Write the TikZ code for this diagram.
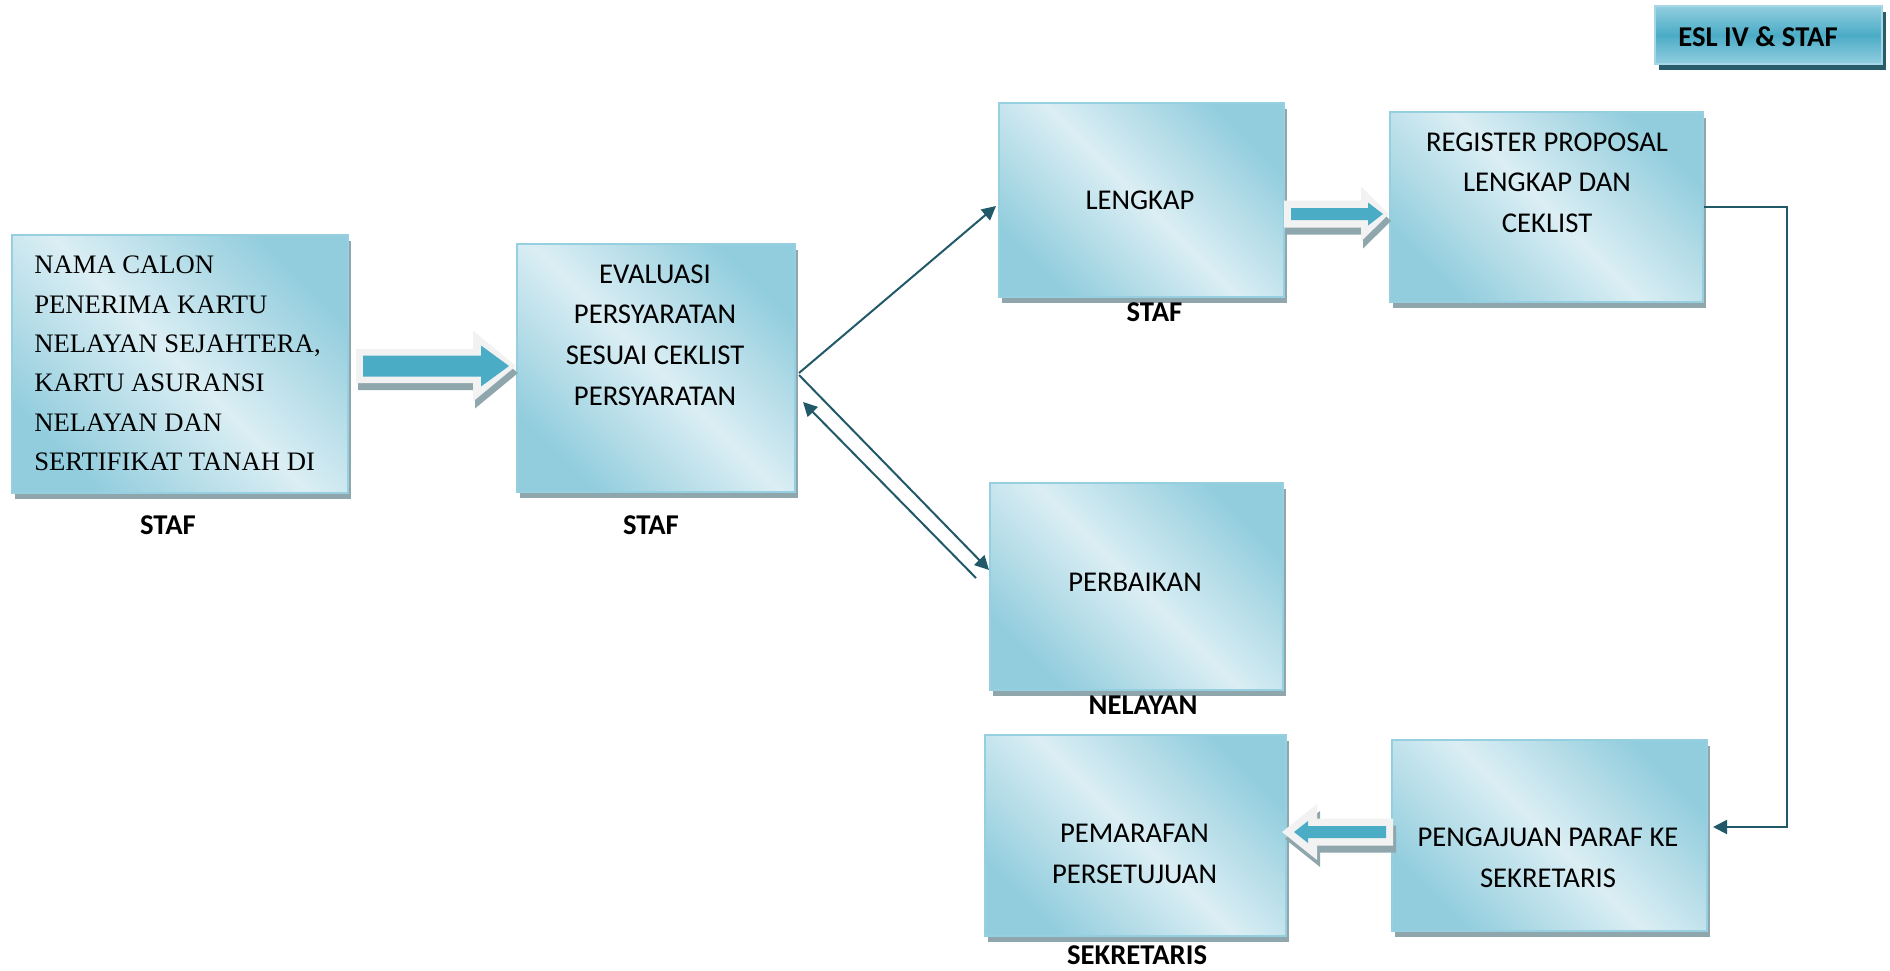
\documentclass[tikz,border=0pt]{standalone}
\usepackage{fontspec}
\setmainfont{Carlito}
\newfontfamily\boxserif{Liberation Serif}
\usetikzlibrary{arrows.meta,calc,shadows}

\definecolor{boxlight}{RGB}{219,238,244}
\definecolor{boxdark}{RGB}{146,205,221}
\definecolor{boxedge}{RGB}{150,207,223}
\definecolor{shadowgrey}{RGB}{143,166,173}
\definecolor{lineteal}{RGB}{33,89,104}
\definecolor{arrowblue}{RGB}{75,172,198}
\definecolor{arrowwhite}{RGB}{242,242,242}
\definecolor{tagtop}{RGB}{146,206,224}
\definecolor{tagedge}{RGB}{165,215,230}
\definecolor{tagshadow}{RGB}{40,92,106}

\newcommand\fatsx{2}

\begin{document}
\begin{tikzpicture}[x=0.75pt,y=-0.75pt,
  stepbox/.style={draw=boxedge, line width=1.5pt, inner sep=0pt,
    top color=boxdark, bottom color=boxdark, middle color=boxlight,
    shading angle=-45,
    drop shadow={shadow xshift=2.25pt, shadow yshift=-4.5pt, fill=shadowgrey, opacity=1}},
  tagbox/.style={draw=tagedge, line width=1.2pt, inner sep=0pt,
    top color=tagtop, bottom color=tagtop, middle color=arrowblue,
    drop shadow={shadow xshift=3pt, shadow yshift=-4.5pt, fill=tagshadow, opacity=1}},
  boxtext/.style={inner sep=0pt, align=center, font=\fontsize{21.5pt}{30.5pt}\selectfont},
  lab/.style={inner sep=0pt, font=\fontsize{21.5pt}{26pt}\selectfont\bfseries},
  conn/.style={draw=lineteal, line width=1.5pt, -{Triangle[length=10.5pt,width=10.5pt]}},
  fatshadow/.code={\renewcommand\fatsx{#1}},
  % block arrow: outer length / shaft half / head half / head length /
  % inner tail inset / inner tip / inner shaft half / inner head half / inner head length
  pics/fatarrow/.style args={#1/#2/#3/#4/#5/#6/#7/#8/#9}{code={
    \fill[shadowgrey, shift={(\fatsx,7)}] (0,-#2) -- ({#1-#4},-#2) -- ({#1-#4},-#3) -- (#1,0)
      -- ({#1-#4},#3) -- ({#1-#4},#2) -- (0,#2) -- cycle;
    \fill[arrowwhite] (0,-#2) -- ({#1-#4},-#2) -- ({#1-#4},-#3) -- (#1,0)
      -- ({#1-#4},#3) -- ({#1-#4},#2) -- (0,#2) -- cycle;
    \fill[arrowblue] (#5,-#7) -- ({#6-#9},-#7) -- ({#6-#9},-#8) -- (#6,0)
      -- ({#6-#9},#8) -- ({#6-#9},#7) -- (#5,#7) -- cycle;
  }}
]
\useasboundingbox (0,0) rectangle (1890,970);

% process boxes
\node[stepbox, minimum width=252pt,    minimum height=193.5pt]  (b1) at (180,364) {};
\node[stepbox, minimum width=208.5pt,  minimum height=186pt]    (b2) at (656,368) {};
\node[stepbox, minimum width=213.75pt, minimum height=145.5pt]  (b3) at (1141.5,200) {};
\node[stepbox, minimum width=234.75pt, minimum height=142.5pt]  (b4) at (1546.5,207) {};
\node[stepbox, minimum width=219.75pt, minimum height=155.25pt] (b5) at (1136.5,586.5) {};
\node[stepbox, minimum width=225.75pt, minimum height=150.75pt] (b6) at (1135.5,835.5) {};
\node[stepbox, minimum width=236.25pt, minimum height=143.25pt] (b7) at (1549.5,835.5) {};
\node[tagbox,  minimum width=170.25pt, minimum height=43.5pt]   (tag) at (1768.5,35) {};

% block arrows between boxes
\pic at ($(b1.east)+(7,2)$) {fatarrow=160/17/35.5/43/7/153/10.5/20.5/28};
\pic at ($(b3.east)+(-1,14)$) {fatarrow=105/13.5/27.5/28/7/99/6/11.5/15};
\pic[xscale=-1, fatshadow=-3] at ($(b7.west)+(2,-3.5)$) {fatarrow=111/13.5/28/35/7/99/6/11/14};

% line connectors
\draw[conn] ($(b2.east)+(3,5)$) -- ($(b3.west)+(-2,6)$);
\draw[conn] ($(b2.east)+(3,7)$) -- ($(b5.west)+(0,-16.5)$);
\draw[conn] ($(b5.west)+(-13,-8.5)$) -- ($(b2.east)+(7,34)$);
\draw[conn] (b4.east) -- ++(83,0) |- ($(b7.east)+(5,-8.5)$);

% box texts
\node[inner sep=0pt, anchor=west, align=left,
      font=\boxserif\fontsize{20pt}{29.6pt}\selectfont] (t1) at (34,363.5)
  {NAMA CALON\\PENERIMA KARTU\\NELAYAN SEJAHTERA,\\KARTU ASURANSI\\NELAYAN DAN\\SERTIFIKAT TANAH DI};
\node[boxtext] (t2) at (655,335) {EVALUASI\\PERSYARATAN\\SESUAI CEKLIST\\PERSYARATAN};
\node[boxtext] (t3) at (1140,200) {LENGKAP};
\node[boxtext] (t4) at (1547,182.5) {REGISTER PROPOSAL\\LENGKAP DAN\\CEKLIST};
\node[boxtext] (t5) at (1135,582) {PERBAIKAN};
\node[boxtext] (t6) at (1134.5,854) {PEMARAFAN\\PERSETUJUAN};
\node[boxtext] (t7) at (1548,858) {PENGAJUAN PARAF KE\\SEKRETARIS};
\node[lab] (tagtext) at (1758,37) {ESL IV \& STAF};

% role labels
\node[lab] (l1) at (168,525) {STAF};
\node[lab] (l2) at (651,525) {STAF};
\node[lab] (l3) at (1154.5,312) {STAF};
\node[lab] (l5) at (1143,705) {NELAYAN};
\node[lab] (l6) at (1137,955) {SEKRETARIS};
\end{tikzpicture}
\end{document}
